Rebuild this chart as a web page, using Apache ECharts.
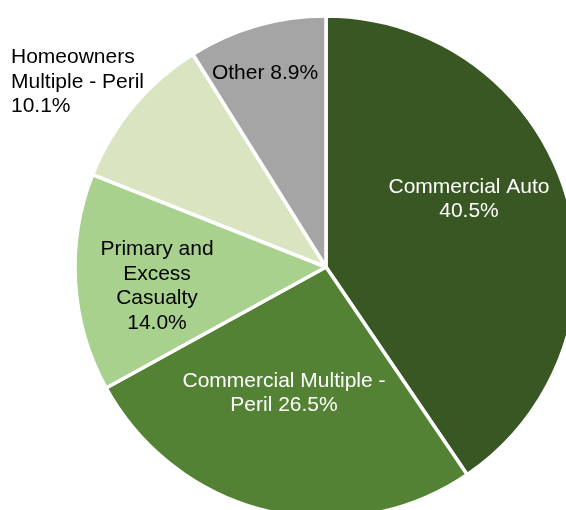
<!DOCTYPE html>
<html>
<head>
<meta charset="utf-8">
<script src="https://cdn.jsdelivr.net/npm/echarts@6/dist/echarts.min.js"></script>
<style>
  html, body { margin: 0; padding: 0; background: #fff; }
  #chart { width: 566px; height: 510px; }
</style>
</head>
<body>
<div id="chart"></div>
<script>
// Line-of-business shares, clockwise from 12 o'clock
const categories = [
  'Commercial Auto',
  'Commercial Multiple -\nPeril',
  'Primary and\nExcess\nCasualty',
  'Homeowners\nMultiple - Peril',
  'Other'
];
const shares = [40.5, 26.5, 14.0, 10.1, 8.9];
const sliceColors = ['#385723', '#548235', '#A9D18E', '#D9E5C1', '#A5A5A5'];
const labelColors = ['#ffffff', '#ffffff', '#000000', '#000000', '#000000'];

// Label anchor points (pixel) and text alignment for each slice label
const labelAnchors = [
  { x: 469, y: 199, align: 'center' },
  { x: 284, y: 393, align: 'center' },
  { x: 157, y: 286, align: 'center' },
  { x: 11, y: 82, align: 'left' },
  { x: 265, y: 73, align: 'center' }
];

// Label text: name and percent share; the percent goes on its own line
// except where it shares the last line of the name.
function labelText(name, value) {
  const v = value.toFixed(1) + '%';
  if (name === 'Commercial Auto') return name + '\n' + v;
  if (name.indexOf('Casualty') >= 0) return name + '\n' + v;
  if (name.indexOf('Homeowners') >= 0) return name + '\n' + v;
  return name + ' ' + v;
}

const chart = echarts.init(document.getElementById('chart'), null, { renderer: 'canvas' });

chart.setOption({
  backgroundColor: '#ffffff',
  animation: false,
  series: [{
    type: 'pie',
    center: [326, 267],
    radius: [0, 251],
    startAngle: 90,
    clockwise: true,
    avoidLabelOverlap: false,
    itemStyle: { borderColor: '#ffffff', borderWidth: 3.5 },
    label: {
      show: true,
      position: 'inside',
      fontFamily: 'Liberation Sans, Arial, sans-serif',
      fontSize: 21,
      lineHeight: 24.5,
      formatter: p => labelText(p.name, p.value)
    },
    labelLine: { show: false },
    labelLayout: p => {
      const a = labelAnchors[p.dataIndex];
      return { x: a.x, y: a.y, align: a.align, verticalAlign: 'middle' };
    },
    emphasis: { disabled: true },
    data: categories.map((c, i) => ({
      name: c,
      value: shares[i],
      itemStyle: { color: sliceColors[i] },
      label: { color: labelColors[i] }
    }))
  }]
});
</script>
</body>
</html>
